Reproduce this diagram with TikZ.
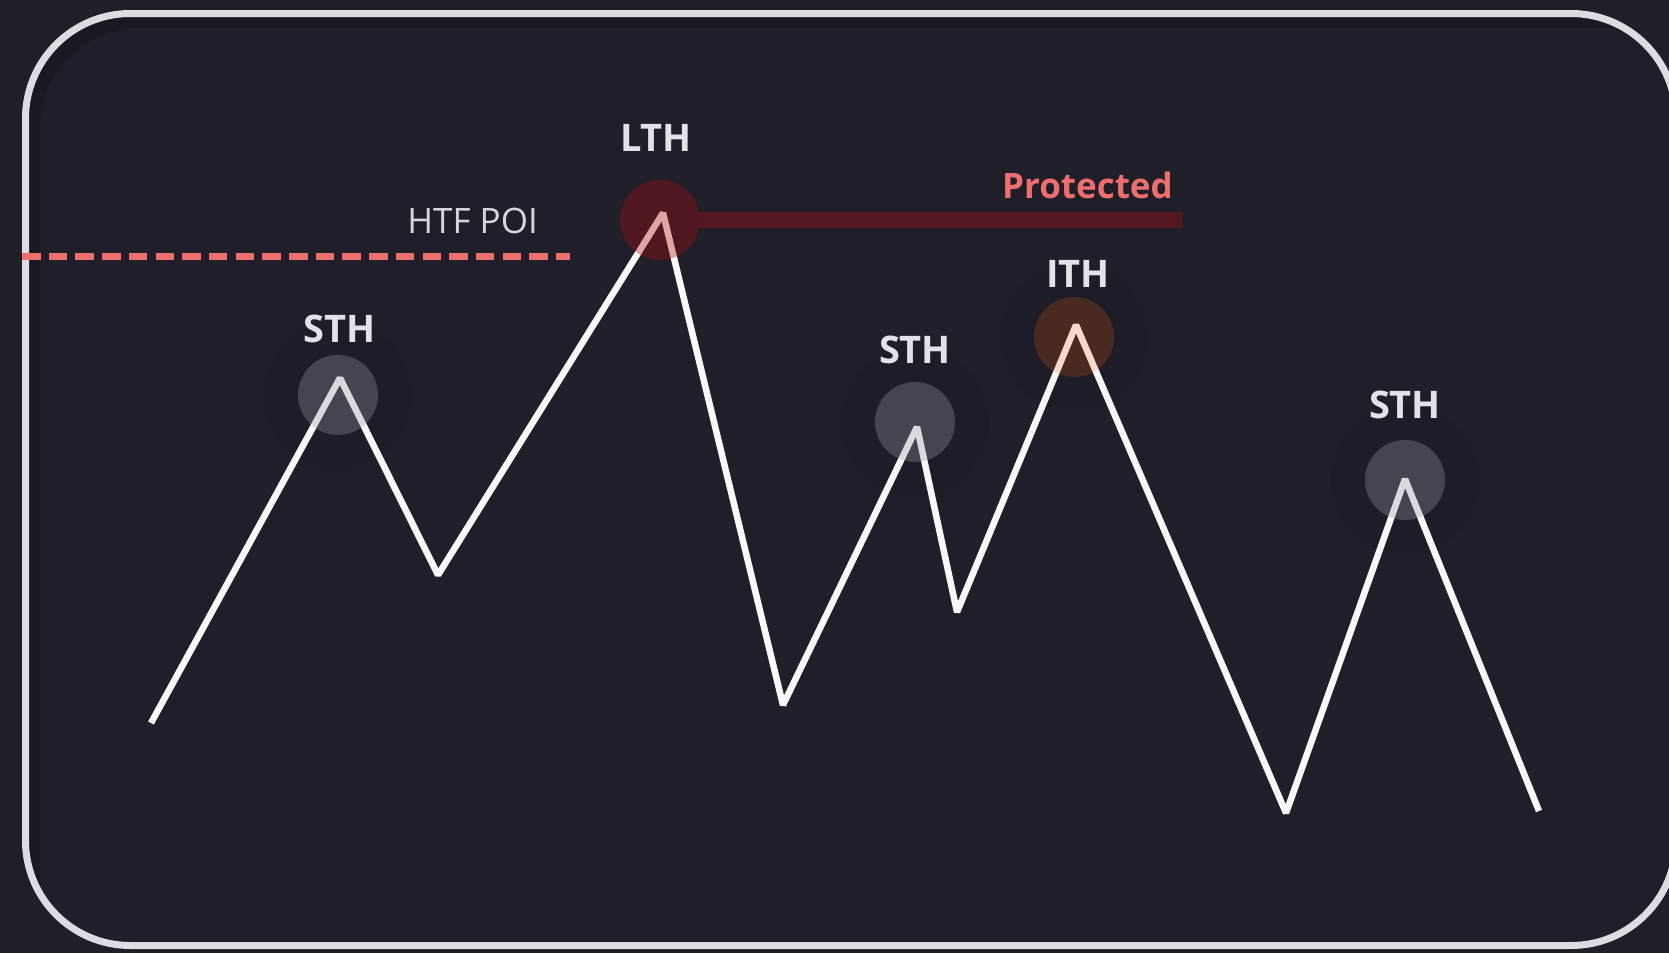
\documentclass[tikz,border=0pt]{standalone}
\usepackage{fontspec}
\setmainfont{Open Sans}
\definecolor{bgout}{HTML}{201F27}
\definecolor{bgin}{HTML}{201F29}
\definecolor{shadowcol}{HTML}{1A1921}
\definecolor{framecol}{HTML}{DCDCE2}
\definecolor{labelcol}{HTML}{E2E2E8}
\definecolor{poicol}{HTML}{D6D6DC}
\definecolor{dashcol}{HTML}{EC7070}
\definecolor{protcol}{HTML}{ED6E6E}
\definecolor{barcol}{HTML}{52171F}
\definecolor{linecol}{HTML}{F8F8FA}
\definecolor{graydot}{HTML}{9A98A6}
\definecolor{reddot}{HTML}{AE090C}
\definecolor{orangedot}{HTML}{F26006}
\begin{document}
\begin{tikzpicture}[x=1pt,y=-1pt,
  lbl/.style={font=\fontsize{38}{38}\selectfont\bfseries, text=labelcol, anchor=base, inner sep=0pt},
  halo/.style={circle, minimum size=150pt, inner sep=0pt, fill=black, fill opacity=0.045},
  dotbase/.style={circle, minimum size=80pt, inner sep=0pt},
  dotgray/.style={dotbase, fill=graydot, fill opacity=0.32},
  dotred/.style={dotbase, fill=reddot, fill opacity=0.35},
  dotorange/.style={dotbase, fill=orangedot, fill opacity=0.2},
  zig/.style={draw=linecol, line width=6.5pt, line join=bevel},
  poidash/.style={draw=dashcol, line width=7pt, dash pattern=on 18.5pt off 8.2pt},
  protbar/.style={draw=barcol, line width=16pt}
]
\useasboundingbox (0,0) rectangle (1669,953);
\fill[bgout] (0,0) rectangle (1669,953);
% frame with inner shadow
\begin{scope}
  \clip[rounded corners=105pt] (25.5,13.5) rectangle (1676,945.5);
  \fill[shadowcol] (0,0) rectangle (1700,970);
  \fill[bgin, rounded corners=100pt] (40,28) rectangle (1700,975);
\end{scope}
\draw[framecol, line width=7pt, rounded corners=105pt] (25.5,13.5) rectangle (1676,945.5);

% halos
\node[halo] (h1) at (338,395) {};
\node[halo] (h2) at (915,422) {};
\node[halo] (h3) at (1405,480) {};
\node[halo] (h4) at (1074,337) {};

% HTF POI dashed line
\coordinate (hd0) at (22,256);
\coordinate (hd1) at (570,256);
\draw[poidash] (hd0) -- (hd1);

% zigzag
\coordinate (p0) at (151,723);
\coordinate (p1) at (340,378);
\coordinate (p2) at (438,575);
\coordinate (p3) at (663,213);
\coordinate (p4) at (783,705);
\coordinate (p5) at (917,427);
\coordinate (p6) at (957,612);
\coordinate (p7) at (1076,325);
\coordinate (p8) at (1286,813);
\coordinate (p9) at (1405,479);
\coordinate (p10) at (1539,811);
\draw[zig] (p0) -- (p1) -- (p2) -- (p3) -- (p4) -- (p5) -- (p6) -- (p7) -- (p8) -- (p9) -- (p10);

% dots
\node[dotgray] (sth1) at (338,395) {};
\node[dotgray] (sth2) at (915,422) {};
\node[dotgray] (sth3) at (1405,480) {};
\node[dotred] (lth) at (660,220) {};
\node[dotorange] (ith) at (1074,337) {};

% protected bar
\coordinate (barend) at (1182,220);
\draw[protbar] ([xshift=-3pt]lth.east) -- (barend);

% labels
\node[lbl] (lthlbl) at (656,151) {LTH};
\node[lbl] (sth1lbl) at (340,342) {STH};
\node[lbl] (sth2lbl) at (915,363) {STH};
\node[lbl] (ithlbl) at (1078,287) {ITH};
\node[lbl] (sth3lbl) at (1405,418) {STH};
\node[font=\fontsize{35}{35}\selectfont, text=poicol, anchor=base east, inner sep=0pt] (poilbl) at (538,233) {HTF POI};
\node[font=\fontsize{35}{35}\selectfont\bfseries, text=protcol, anchor=base east, inner sep=0pt] (protlbl) at (1173,198) {Protected};
\end{tikzpicture}
\end{document}
